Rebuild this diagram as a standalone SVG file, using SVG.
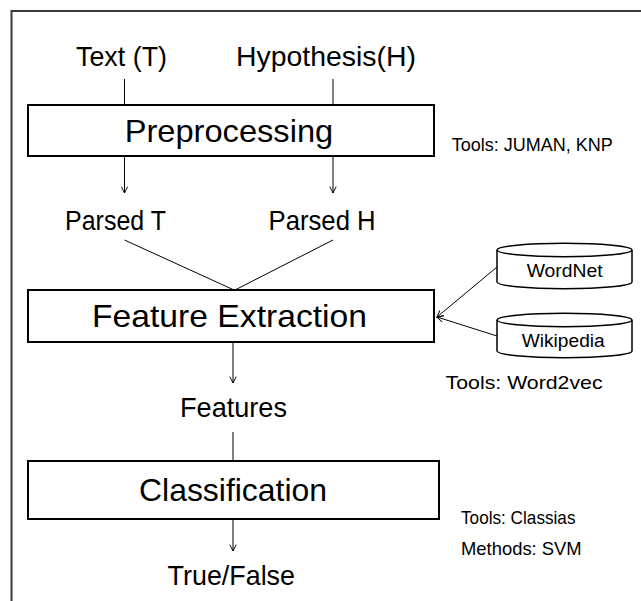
<svg xmlns="http://www.w3.org/2000/svg" width="641" height="601" viewBox="0 0 641 601">
<defs>
<style>
text{font-family:"Liberation Sans",Arial,sans-serif;fill:#000}
.lbl{font-size:28px}
.ttl{font-size:32px}
.sm{font-size:19px}
.cy{font-size:18px}
.box{fill:#fff;stroke:#000;stroke-width:2}
.ln{fill:none;stroke:#000;stroke-width:1}
.cyl{fill:#fff;stroke:#000;stroke-width:1.5}
</style>
<marker id="ah" viewBox="0 0 10 10" refX="9" refY="5" markerWidth="8" markerHeight="8" markerUnits="userSpaceOnUse" orient="auto">
<path d="M1,1 L9,5 L1,9" fill="none" stroke="#000" stroke-width="1.2"/>
</marker>
</defs>
<rect width="641" height="601" fill="#fff"/>
<path d="M11.5,601 V11 H641" fill="none" stroke="#3a3a3a" stroke-width="2"/>

<g id="connectors">
<line class="ln" x1="124.5" y1="79" x2="124.5" y2="105"/>
<line class="ln" x1="333" y1="79" x2="333" y2="105"/>
<line class="ln" x1="124.5" y1="156" x2="124.5" y2="193" marker-end="url(#ah)"/>
<line class="ln" x1="333" y1="156" x2="333" y2="193" marker-end="url(#ah)"/>
<line class="ln" x1="124.5" y1="240" x2="234" y2="290"/>
<line class="ln" x1="333" y1="240" x2="235" y2="290"/>
<line class="ln" x1="497" y1="267" x2="437" y2="317" marker-end="url(#ah)"/>
<line class="ln" x1="497" y1="336" x2="437" y2="317" marker-end="url(#ah)"/>
<line class="ln" x1="233" y1="342" x2="233" y2="383" marker-end="url(#ah)"/>
<line class="ln" x1="233" y1="432" x2="233" y2="461"/>
<line class="ln" x1="233" y1="519" x2="233" y2="551" marker-end="url(#ah)"/>
</g>

<g id="text-t"><text class="lbl" x="76" y="66" textLength="91" lengthAdjust="spacingAndGlyphs">Text (T)</text></g>
<g id="hypothesis"><text class="lbl" x="236" y="66" textLength="180" lengthAdjust="spacingAndGlyphs">Hypothesis(H)</text></g>

<g id="preprocessing">
<rect class="box" x="28" y="105" width="406" height="51"/>
<text class="ttl" x="124.7" y="142" textLength="208.5" lengthAdjust="spacingAndGlyphs">Preprocessing</text>
</g>
<g id="tools-juman"><text class="sm" x="451.7" y="151" textLength="161" lengthAdjust="spacingAndGlyphs">Tools: JUMAN, KNP</text></g>

<g id="parsed-t"><text class="lbl" x="65" y="230" textLength="101" lengthAdjust="spacingAndGlyphs">Parsed T</text></g>
<g id="parsed-h"><text class="lbl" x="268.6" y="230" textLength="107" lengthAdjust="spacingAndGlyphs">Parsed H</text></g>

<g id="feature-extraction">
<rect class="box" x="28" y="290" width="406" height="52"/>
<text class="ttl" x="92" y="327" textLength="275" lengthAdjust="spacingAndGlyphs">Feature Extraction</text>
</g>

<g id="wordnet">
<path class="cyl" d="M497,250 V282 A67.5,6.7 0 0 0 632,282 V250"/>
<ellipse class="cyl" cx="564.5" cy="250" rx="67.5" ry="6.7"/>
<text class="cy" x="526.7" y="277" textLength="76" lengthAdjust="spacingAndGlyphs">WordNet</text>
</g>
<g id="wikipedia">
<path class="cyl" d="M497,320 V351 A67.5,6.7 0 0 0 632,351 V320"/>
<ellipse class="cyl" cx="564.5" cy="320" rx="67.5" ry="6.7"/>
<text class="cy" x="521.7" y="347" textLength="83" lengthAdjust="spacingAndGlyphs">Wikipedia</text>
</g>
<g id="tools-word2vec"><text class="sm" x="445.6" y="388.5" textLength="157" lengthAdjust="spacingAndGlyphs">Tools: Word2vec</text></g>

<g id="features"><text class="lbl" x="180" y="417" textLength="107" lengthAdjust="spacingAndGlyphs">Features</text></g>

<g id="classification">
<rect class="box" x="28" y="461" width="411" height="58"/>
<text class="ttl" x="139" y="501" textLength="188" lengthAdjust="spacingAndGlyphs">Classification</text>
</g>
<g id="tools-classias"><text class="sm" x="461" y="523.5" textLength="114.5" lengthAdjust="spacingAndGlyphs">Tools: Classias</text></g>
<g id="methods-svm"><text class="sm" x="461" y="555" textLength="120.7" lengthAdjust="spacingAndGlyphs">Methods: SVM</text></g>

<g id="true-false"><text class="lbl" x="167.6" y="585" textLength="127.4" lengthAdjust="spacingAndGlyphs">True/False</text></g>
</svg>
